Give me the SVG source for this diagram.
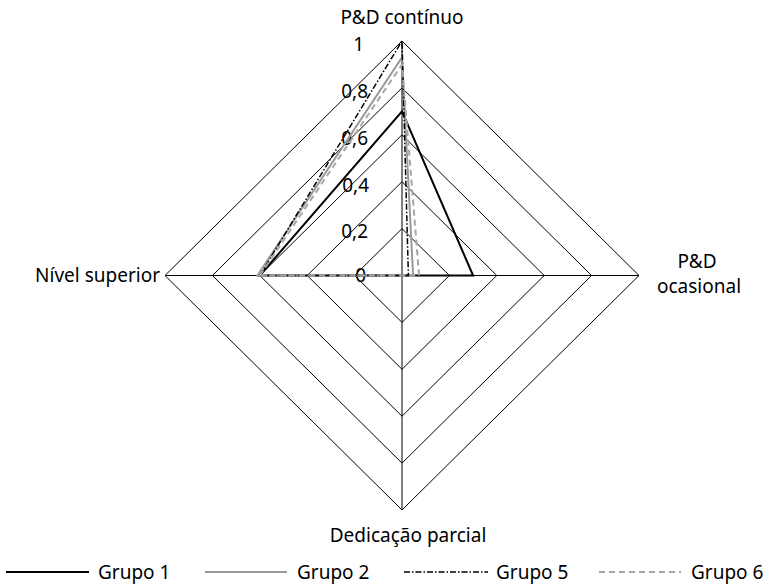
<svg xmlns="http://www.w3.org/2000/svg" width="766" height="587" viewBox="0 0 766 587">
<style>
text{font-family:"Noto Sans","Open Sans",sans-serif;font-size:19px;fill:#000}
.ring{fill:none;stroke:#000;stroke-width:1}
.axis{stroke:#000;stroke-width:1}
.s1{fill:none;stroke:#000;stroke-width:2}
.s2{fill:none;stroke:#9a9a9a;stroke-width:2}
.s5{fill:none;stroke:#000;stroke-width:1.5;stroke-dasharray:6 2 1.5 2}
.s6{fill:none;stroke:#a6a6a6;stroke-width:2;stroke-dasharray:6 4}
</style>
<rect width="766" height="587" fill="#fff"/>
<g id="grid">
<polygon class="ring" points="402,228.6 449.4,275.5 402,322.4 354.6,275.5"/>
<polygon class="ring" points="402,181.7 496.8,275.5 402,369.3 307.2,275.5"/>
<polygon class="ring" points="402,134.8 544.2,275.5 402,416.2 259.8,275.5"/>
<polygon class="ring" points="402,87.9 591.6,275.5 402,463.1 212.4,275.5"/>
<polygon class="ring" points="402,41 639,275.5 402,510 165,275.5"/>
<line class="axis" x1="402" y1="41" x2="402" y2="510"/>
<line class="axis" x1="165" y1="275.5" x2="639" y2="275.5"/>
</g>
<g id="ticks" text-anchor="end">
<text x="366" y="282">0</text>
<text x="368" y="238">0,2</text>
<text x="369" y="191.5">0,4</text>
<text x="368" y="145">0,6</text>
<text x="368" y="98">0,8</text>
<text x="364" y="50.5">1</text>
</g>
<g id="axis-labels">
<text x="402" y="24" text-anchor="middle">P&amp;D contínuo</text>
<text x="697" y="268" text-anchor="middle">P&amp;D</text>
<text x="699" y="293" text-anchor="middle">ocasional</text>
<text x="408" y="542" text-anchor="middle">Dedicação parcial</text>
<text x="160" y="282" text-anchor="end">Nível superior</text>
</g>
<g id="series">
<polygon id="grupo1" class="s1" points="259.8,275.5 402,111.4 473.1,275.5 402,275.5"/>
<polygon id="grupo2" class="s2" points="257.4,275.5 402,57.4 413.1,275.5 402,275.5"/>
<polygon id="grupo5" class="s5" points="259.8,275.5 402,41 408.4,275.5 402,275.5"/>
<polygon id="grupo6" class="s6" points="259.8,275.5 402,64.5 419.1,275.5 402,275.5"/>
</g>
<g id="legend">
<line class="s1" x1="6" y1="572" x2="89" y2="572"/>
<text x="98" y="579">Grupo 1</text>
<line class="s2" x1="205" y1="572" x2="287" y2="572"/>
<text x="297" y="579">Grupo 2</text>
<line class="s5" x1="404" y1="572" x2="488" y2="572"/>
<text x="496" y="579">Grupo 5</text>
<line class="s6" x1="599" y1="572" x2="681" y2="572"/>
<text x="691" y="579">Grupo 6</text>
</g>
</svg>
